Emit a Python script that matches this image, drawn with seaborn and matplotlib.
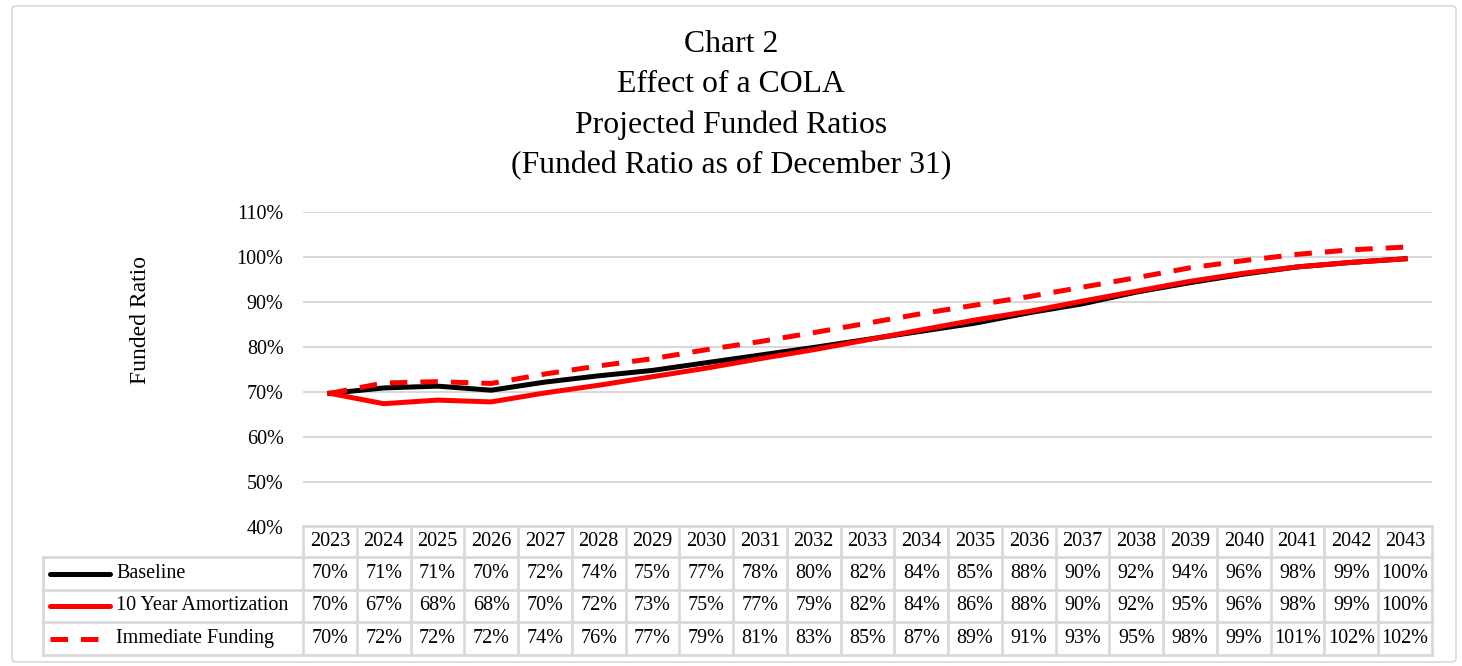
import numpy as np
import pandas as pd
import matplotlib.pyplot as plt
import matplotlib.ticker as mtick
from matplotlib.patches import FancyBboxPatch
from matplotlib.lines import Line2D
import seaborn as sns

# Data
years = list(range(2023, 2044))
baseline = [69.7, 70.9, 71.3, 70.4, 72.2, 73.6, 74.8, 76.5, 78.2, 79.9, 81.7,
            83.5, 85.3, 87.6, 89.6, 92.2, 94.3, 96.2, 97.8, 98.8, 99.6]
amort_10yr = [69.7, 67.4, 68.2, 67.8, 69.8, 71.5, 73.4, 75.3, 77.4, 79.4, 81.6,
              83.8, 86.0, 87.9, 90.2, 92.4, 94.6, 96.4, 97.8, 98.8, 99.6]
immediate = [69.7, 72.0, 72.3, 71.9, 74.0, 75.8, 77.4, 79.4, 81.2, 83.2, 85.3,
             87.4, 89.3, 91.2, 93.3, 95.4, 97.6, 99.2, 100.6, 101.6, 102.2]
series_names = ["Baseline", "10 Year Amortization", "Immediate Funding"]

# Table text as printed under the chart
tbl_baseline = ["70%", "71%", "71%", "70%", "72%", "74%", "75%", "77%", "78%", "80%", "82%",
                "84%", "85%", "88%", "90%", "92%", "94%", "96%", "98%", "99%", "100%"]
tbl_amort = ["70%", "67%", "68%", "68%", "70%", "72%", "73%", "75%", "77%", "79%", "82%",
             "84%", "86%", "88%", "90%", "92%", "95%", "96%", "98%", "99%", "100%"]
tbl_immediate = ["70%", "72%", "72%", "72%", "74%", "76%", "77%", "79%", "81%", "83%", "85%",
                 "87%", "89%", "91%", "93%", "95%", "98%", "99%", "101%", "102%", "102%"]
table_rows = [tbl_baseline, tbl_amort, tbl_immediate]

colors = {"Baseline": "black", "10 Year Amortization": "#ff0000", "Immediate Funding": "#ff0000"}
dash_map = {"Baseline": "", "10 Year Amortization": "", "Immediate Funding": (3.5, 2.6)}

df = pd.DataFrame({
    "pos": list(range(len(years))) * 3,
    "value": baseline + amort_10yr + immediate,
    "series": np.repeat(series_names, len(years)),
})

W, H = 1462, 666
fig = plt.figure(figsize=(W / 100, H / 100), dpi=100)
serif = ["Liberation Serif", "DejaVu Serif"]
plt.rcParams["font.family"] = serif
fs = 14.5

# outer frame
fig.patches.append(FancyBboxPatch((12 / W, 4 / H), 1444 / W, 656 / H,
                                  boxstyle="round,pad=0,rounding_size=0.004",
                                  transform=fig.transFigure, fc="none",
                                  ec="#d9d9d9", lw=1.2, zorder=-1))

ax_left, ax_right = 303, 1432
ax_bot, ax_top = 527, 212
ax = fig.add_axes([ax_left / W, 1 - ax_bot / H, (ax_right - ax_left) / W, (ax_bot - ax_top) / H])
ax.set_facecolor("none")

sns.lineplot(data=df, x="pos", y="value", hue="series", style="series",
             palette=colors, dashes=dash_map, linewidth=3.6, legend=False, ax=ax)

ax.set_xlim(-0.5, len(years) - 0.5)
ax.set_ylim(40, 110)
ax.set_yticks(range(40, 111, 10))
ax.yaxis.set_major_formatter(mtick.FuncFormatter(lambda v, _: f"{v:.0f}%"))
ax.tick_params(axis="y", length=0, labelsize=fs, pad=14)
ax.set_xticks([])
ax.set_xlabel("")
ax.set_ylabel("")
for s in ax.spines.values():
    s.set_visible(False)
ax.grid(True, axis="y", color="#d9d9d9", lw=1.5)
ax.set_axisbelow(True)
for lbl in ax.get_yticklabels():
    lbl.set_fontfamily(serif)

fig.text(140 / W, 1 - 320 / H, "Funded Ratio", rotation=90, ha="center", va="center",
         fontsize=17, family=serif)

fig.text(731 / W, 1 - 105 / H,
         "Chart 2\nEffect of a COLA\nProjected Funded Ratios\n(Funded Ratio as of December 31)",
         ha="center", va="center", fontsize=22.9, family=serif, linespacing=1.49)

# data table drawn in figure pixel space
def fx(px):
    return px / W

def fy(py):
    return 1 - py / H

grid_c = "#d9d9d9"
col_w = (ax_right - ax_left) / len(years)
row_edges = [526, 557, 590, 622, 655]
label_left = 43

# header row borders (data columns only)
for i in range(len(years) + 1):
    x = ax_left + i * col_w
    fig.add_artist(Line2D([fx(x), fx(x)], [fy(row_edges[0]), fy(row_edges[-1])],
                          color=grid_c, lw=2))
for yy in row_edges:
    x0 = ax_left if yy == row_edges[0] else label_left
    fig.add_artist(Line2D([fx(x0), fx(ax_right)], [fy(yy), fy(yy)], color=grid_c, lw=2))
fig.add_artist(Line2D([fx(label_left), fx(label_left)], [fy(row_edges[1]), fy(row_edges[-1])],
                      color=grid_c, lw=2))

for i, yr in enumerate(years):
    cx = ax_left + (i + 0.5) * col_w
    fig.text(fx(cx), fy((row_edges[0] + row_edges[1]) / 2), str(yr), ha="center", va="center",
             fontsize=fs, family=serif)
    for r, row in enumerate(table_rows):
        cy = (row_edges[r + 1] + row_edges[r + 2]) / 2
        fig.text(fx(cx), fy(cy), row[i], ha="center", va="center", fontsize=fs, family=serif)

for r, name in enumerate(series_names):
    cy = (row_edges[r + 1] + row_edges[r + 2]) / 2
    ls = (0, (3.5, 2.6)) if dash_map[name] else "-"
    fig.add_artist(Line2D([fx(50), fx(110)], [fy(cy), fy(cy)], color=colors[name], lw=3.6,
                          ls=ls, solid_capstyle="round"))
    fig.text(fx(116), fy(cy), name, ha="left", va="center", fontsize=fs, family=serif)

fig.savefig("out.png", dpi=100)
